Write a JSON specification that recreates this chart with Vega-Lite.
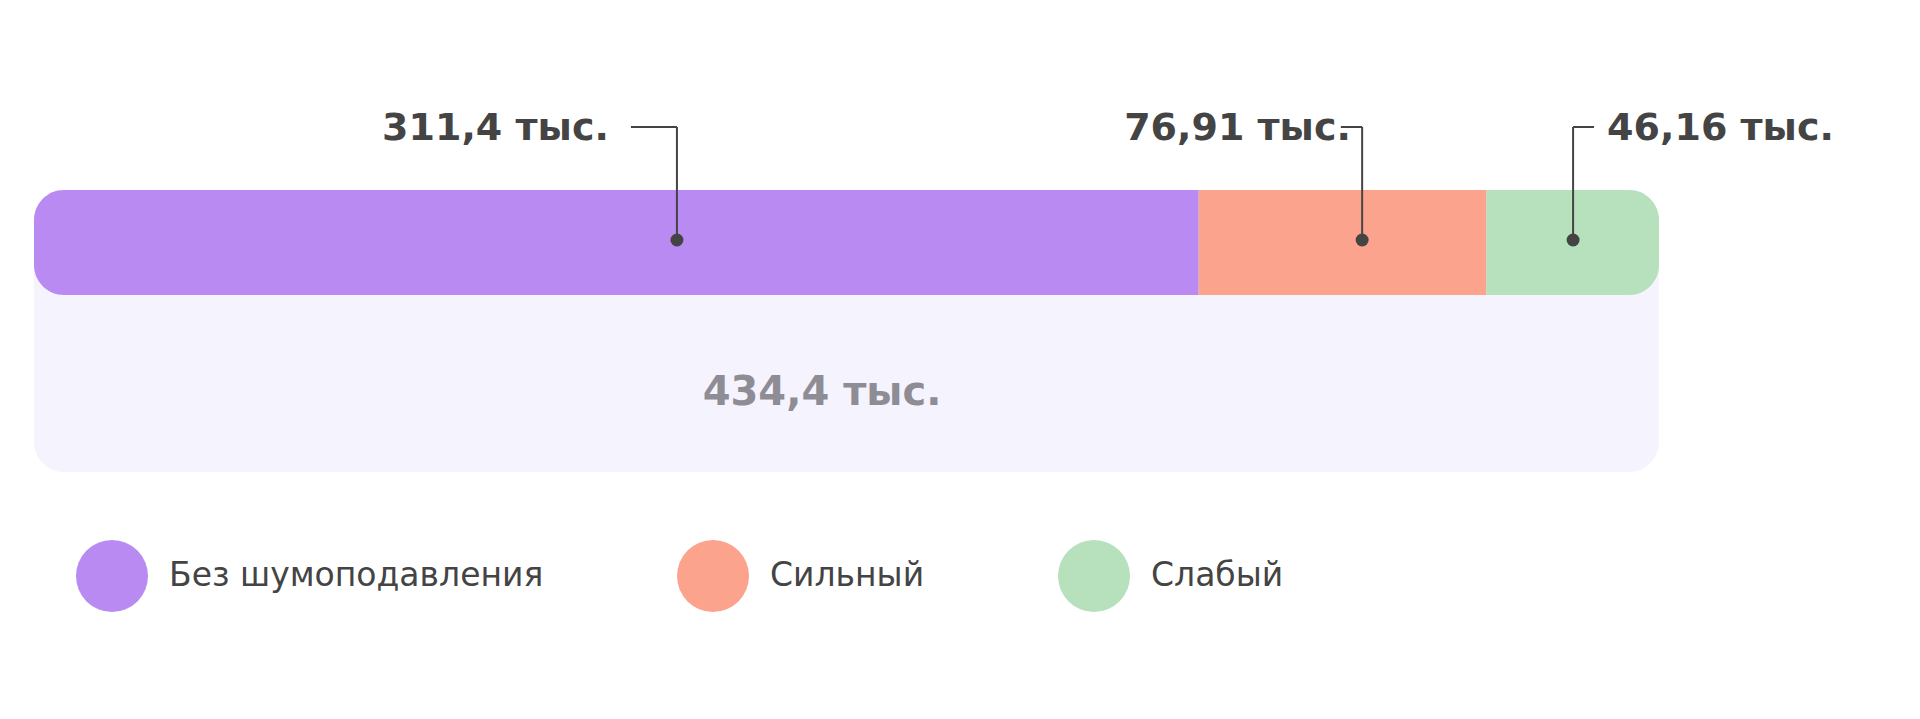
{
  "$schema": "https://vega.github.io/schema/vega-lite/v6.json",
  "width": 1625,
  "height": 719,
  "autosize": {"type": "none"},
  "padding": {"left": 34, "right": 261, "top": 0, "bottom": 0},
  "background": "white",
  "config": {"view": {"stroke": null}, "font": "DejaVu Sans"},
  "datasets": {
    "parts": [
      {"category": "Без шумоподавления", "value": 311.4, "order": 1, "label": "311,4 тыс.", "anchor": 171.9, "elbow": 159.6, "labelAt": 153.7},
      {"category": "Сильный", "value": 76.91, "order": 2, "label": "76,91 тыс.", "anchor": 355.1, "elbow": 349.4, "labelAt": 352.1},
      {"category": "Слабый", "value": 46.16, "order": 3, "label": "46,16 тыс.", "anchor": 411.5, "elbow": 417.1, "labelAt": 420.6}
    ],
    "total": [{"label": "434,4 тыс.", "total": 434.4, "labelAt": 210.7}]
  },
  "layer": [
    {
      "data": {"name": "total"},
      "transform": [
        {"stack": "total", "groupby": [], "as": ["b0", "b1"]}
      ],
      "mark": {"type": "bar", "cornerRadius": 30, "color": "#f5f3fd"},
      "encoding": {
        "x": {"field": "b0", "type": "quantitative", "scale": {"domain": [0, 434.47], "nice": false, "zero": true}, "axis": null},
        "x2": {"field": "b1"},
        "y": {"value": 190},
        "y2": {"value": 472}
      }
    },
    {
      "data": {"name": "parts"},
      "transform": [
        {"stack": "value", "groupby": [], "sort": [{"field": "order", "order": "ascending"}], "as": ["x0", "x1"]},
        {"filter": "datum.category === 'Без шумоподавления'"}
      ],
      "mark": {"type": "bar", "cornerRadiusTopLeft": 30, "cornerRadiusBottomLeft": 30},
      "encoding": {
        "x": {"field": "x0", "type": "quantitative"},
        "x2": {"field": "x1"},
        "y": {"value": 190},
        "y2": {"value": 295},
        "color": {
          "field": "category",
          "type": "nominal",
          "scale": {"domain": ["Без шумоподавления", "Сильный", "Слабый"], "range": ["#b88af2", "#fca38e", "#b7e0bc"]},
          "legend": {
            "orient": "none",
            "legendX": 42,
            "legendY": 540,
            "direction": "horizontal",
            "title": null,
            "symbolType": "circle",
            "symbolSize": 5184,
            "symbolStrokeWidth": 0,
            "symbolOpacity": 1,
            "labelFontSize": 33,
            "labelColor": "#444444",
            "labelFont": "DejaVu Sans",
            "labelFontWeight": 500,
            "labelOffset": 21,
            "columnPadding": 133,
            "labelLimit": 700
          }
        }
      }
    },
    {
      "data": {"name": "parts"},
      "transform": [
        {"stack": "value", "groupby": [], "sort": [{"field": "order", "order": "ascending"}], "as": ["x0", "x1"]},
        {"filter": "datum.category === 'Сильный'"}
      ],
      "mark": {"type": "bar"},
      "encoding": {
        "x": {"field": "x0", "type": "quantitative"},
        "x2": {"field": "x1"},
        "y": {"value": 190},
        "y2": {"value": 295},
        "color": {"field": "category", "type": "nominal"}
      }
    },
    {
      "data": {"name": "parts"},
      "transform": [
        {"stack": "value", "groupby": [], "sort": [{"field": "order", "order": "ascending"}], "as": ["x0", "x1"]},
        {"filter": "datum.category === 'Слабый'"}
      ],
      "mark": {"type": "bar", "cornerRadiusTopRight": 30, "cornerRadiusBottomRight": 30},
      "encoding": {
        "x": {"field": "x0", "type": "quantitative"},
        "x2": {"field": "x1"},
        "y": {"value": 190},
        "y2": {"value": 295},
        "color": {"field": "category", "type": "nominal"}
      }
    },
    {
      "data": {"name": "parts"},
      "mark": {"type": "rule", "color": "#444444", "strokeWidth": 2},
      "encoding": {
        "x": {"field": "anchor", "type": "quantitative"},
        "y": {"value": 240},
        "y2": {"value": 127}
      }
    },
    {
      "data": {"name": "parts"},
      "mark": {"type": "rule", "color": "#444444", "strokeWidth": 2},
      "encoding": {
        "x": {"field": "anchor", "type": "quantitative"},
        "x2": {"field": "elbow"},
        "y": {"value": 127}
      }
    },
    {
      "data": {"name": "parts"},
      "mark": {"type": "circle", "color": "#444444", "opacity": 1, "size": 169},
      "encoding": {
        "x": {"field": "anchor", "type": "quantitative"},
        "y": {"value": 240}
      }
    },
    {
      "data": {"name": "parts"},
      "transform": [{"filter": "datum.category !== 'Слабый'"}],
      "mark": {"type": "text", "align": "right", "baseline": "alphabetic", "fontSize": 38, "fontWeight": "bold", "color": "#444444"},
      "encoding": {
        "x": {"field": "labelAt", "type": "quantitative"},
        "y": {"value": 140},
        "text": {"field": "label"}
      }
    },
    {
      "data": {"name": "parts"},
      "transform": [{"filter": "datum.category === 'Слабый'"}],
      "mark": {"type": "text", "align": "left", "baseline": "alphabetic", "fontSize": 38, "fontWeight": "bold", "color": "#444444"},
      "encoding": {
        "x": {"field": "labelAt", "type": "quantitative"},
        "y": {"value": 140},
        "text": {"field": "label"}
      }
    },
    {
      "data": {"name": "total"},
      "mark": {"type": "text", "align": "center", "baseline": "alphabetic", "fontSize": 40, "fontWeight": "bold", "color": "#8e8c94"},
      "encoding": {
        "x": {"field": "labelAt", "type": "quantitative"},
        "y": {"value": 405},
        "text": {"field": "label"}
      }
    }
  ]
}
